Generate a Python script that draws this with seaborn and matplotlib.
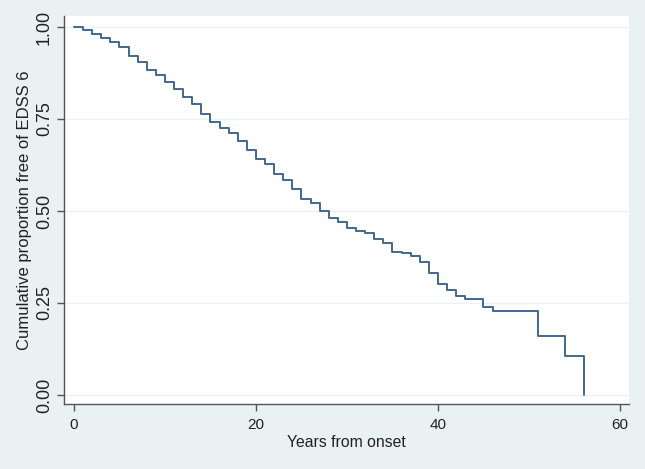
import matplotlib
matplotlib.use("Agg")
import matplotlib.pyplot as plt
import seaborn as sns
import pandas as pd

years = [0, 1, 2, 3, 4, 5, 6, 7, 8, 9, 10, 11, 12, 13, 14, 15, 16, 17, 18, 19,
         20, 21, 22, 23, 24, 25, 26, 27, 28, 29, 30, 31, 32, 33, 34, 35, 36, 37,
         38, 39, 40, 41, 42, 43, 45, 46, 51, 54, 56]
survival = [1.000, 0.992, 0.980, 0.970, 0.958, 0.945, 0.920, 0.906, 0.884, 0.869,
            0.851, 0.832, 0.809, 0.790, 0.765, 0.742, 0.725, 0.711, 0.690, 0.666,
            0.641, 0.629, 0.600, 0.584, 0.559, 0.534, 0.521, 0.501, 0.480, 0.471,
            0.453, 0.446, 0.439, 0.423, 0.412, 0.389, 0.385, 0.377, 0.361, 0.331,
            0.301, 0.285, 0.270, 0.260, 0.238, 0.228, 0.160, 0.107, 0.000]
x_ticks = [0, 20, 40, 60]
y_ticks = [0.00, 0.25, 0.50, 0.75, 1.00]
y_tick_labels = ["0.00", "0.25", "0.50", "0.75", "1.00"]

df = pd.DataFrame({"Years from onset": years, "Cumulative proportion free of EDSS 6": survival})

sns.set_style("white")
plt.rcParams["font.family"] = ["Liberation Sans", "DejaVu Sans"]

bg = "#eaf1f3"
fig = plt.figure(figsize=(6.45, 4.69), dpi=100, facecolor=bg)
ax = fig.add_axes([64 / 645, 1 - 404 / 469, (629 - 64) / 645, (404 - 16) / 469])
ax.set_facecolor("white")

for yt in y_ticks:
    ax.axhline(yt, color="#eaf2f3", lw=1.0, zorder=0)

sns.lineplot(data=df, x="Years from onset", y="Cumulative proportion free of EDSS 6",
             drawstyle="steps-post", color="#42678e", lw=1.4, ax=ax, estimator=None)

ax.set_xlim(-1.1, 61.0)
ax.set_ylim(-0.0245, 1.030)
ax.set_xticks(x_ticks)
ax.set_yticks(y_ticks)
ax.set_yticklabels(y_tick_labels, rotation=90, va="center")
ax.tick_params(axis="both", direction="out", length=5, width=1, color="#555555",
               labelcolor="#222222", left=True, bottom=True, pad=3)
ax.tick_params(axis="x", labelsize=11, pad=5)
ax.tick_params(axis="y", labelsize=13)
for s in ["top", "right"]:
    ax.spines[s].set_visible(False)
for s in ["left", "bottom"]:
    ax.spines[s].set_color("#555555")
    ax.spines[s].set_linewidth(1.0)

ax.set_xlabel("Years from onset", fontsize=11.3, color="#222222", labelpad=2)
ax.set_ylabel("Cumulative proportion free of EDSS 6", fontsize=12, color="#222222", labelpad=3)

fig.savefig("out.png", dpi=100, facecolor=bg)
